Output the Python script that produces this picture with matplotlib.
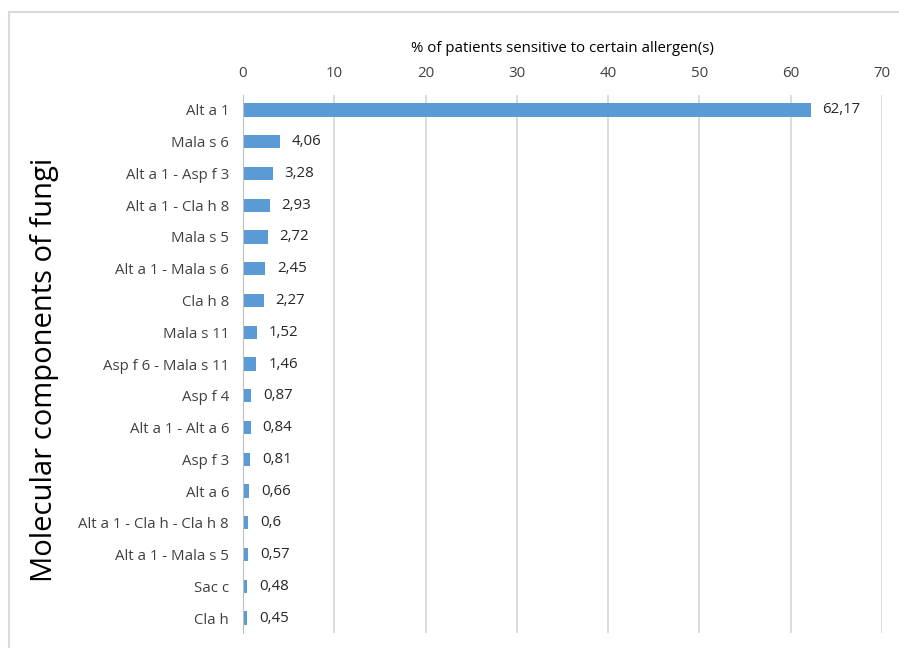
import matplotlib
matplotlib.use("Agg")
import matplotlib.pyplot as plt
from matplotlib.patches import Rectangle

categories = ["Alt a 1", "Mala s 6", "Alt a 1 - Asp f 3", "Alt a 1 - Cla h 8", "Mala s 5",
              "Alt a 1 - Mala s 6", "Cla h 8", "Mala s 11", "Asp f 6 - Mala s 11", "Asp f 4",
              "Alt a 1 - Alt a 6", "Asp f 3", "Alt a 6", "Alt a 1 - Cla h - Cla h 8",
              "Alt a 1 - Mala s 5", "Sac c", "Cla h"]
values = [62.17, 4.06, 3.28, 2.93, 2.72, 2.45, 2.27, 1.52, 1.46, 0.87, 0.84, 0.81, 0.66,
          0.6, 0.57, 0.48, 0.45]
xticks = [0, 10, 20, 30, 40, 50, 60, 70]

plt.rcParams['font.family'] = ['Open Sans', 'DejaVu Sans']

fig = plt.figure(figsize=(8.99, 6.48), dpi=100)
fig.add_artist(Rectangle((9/899, -0.1), 1.2, 1 - 12/648 + 0.1, transform=fig.transFigure,
                         fill=False, edgecolor='#d9d9d9', linewidth=1.5))
ax = fig.add_axes([243/899, 1 - 633/648, 639/899, 538/648])

ypos = list(range(len(categories)))
ax.barh(ypos, values, height=0.42, color='#5B9BD5', zorder=3)
for y, v in zip(ypos, values):
    ax.text(v + 1.3, y, str(v).replace('.', ','), va='center', ha='left', fontsize=10.8, color='#262626')

ax.set_ylim(16.47, -0.47)
ax.set_xlim(0, 70)
ax.set_yticks(ypos)
ax.set_yticklabels(categories, fontsize=10.8, color='#404040')
ax.xaxis.tick_top()
ax.xaxis.set_label_position('top')
ax.set_xticks(xticks)
ax.set_xticklabels([str(t) for t in xticks], fontsize=10.8, color='#404040')
ax.tick_params(axis='both', length=0)
ax.tick_params(axis='x', pad=10)
ax.tick_params(axis='y', pad=10)
ax.grid(axis='x', color='#d9d9d9', linewidth=1.3, zorder=0)
for s in ['top', 'right', 'bottom']:
    ax.spines[s].set_visible(False)
ax.spines['left'].set_color('#bfbfbf')
ax.spines['left'].set_zorder(4)
ax.set_xlabel('% of patients sensitive to certain allergen(s)', fontsize=10.8, color='#000000', labelpad=10)
fig.text(45/899, 1 - 370/648, 'Molecular components of fungi', rotation=90, fontsize=21,
         ha='center', va='center', color='#000000')

fig.savefig('out.png', dpi=100)
